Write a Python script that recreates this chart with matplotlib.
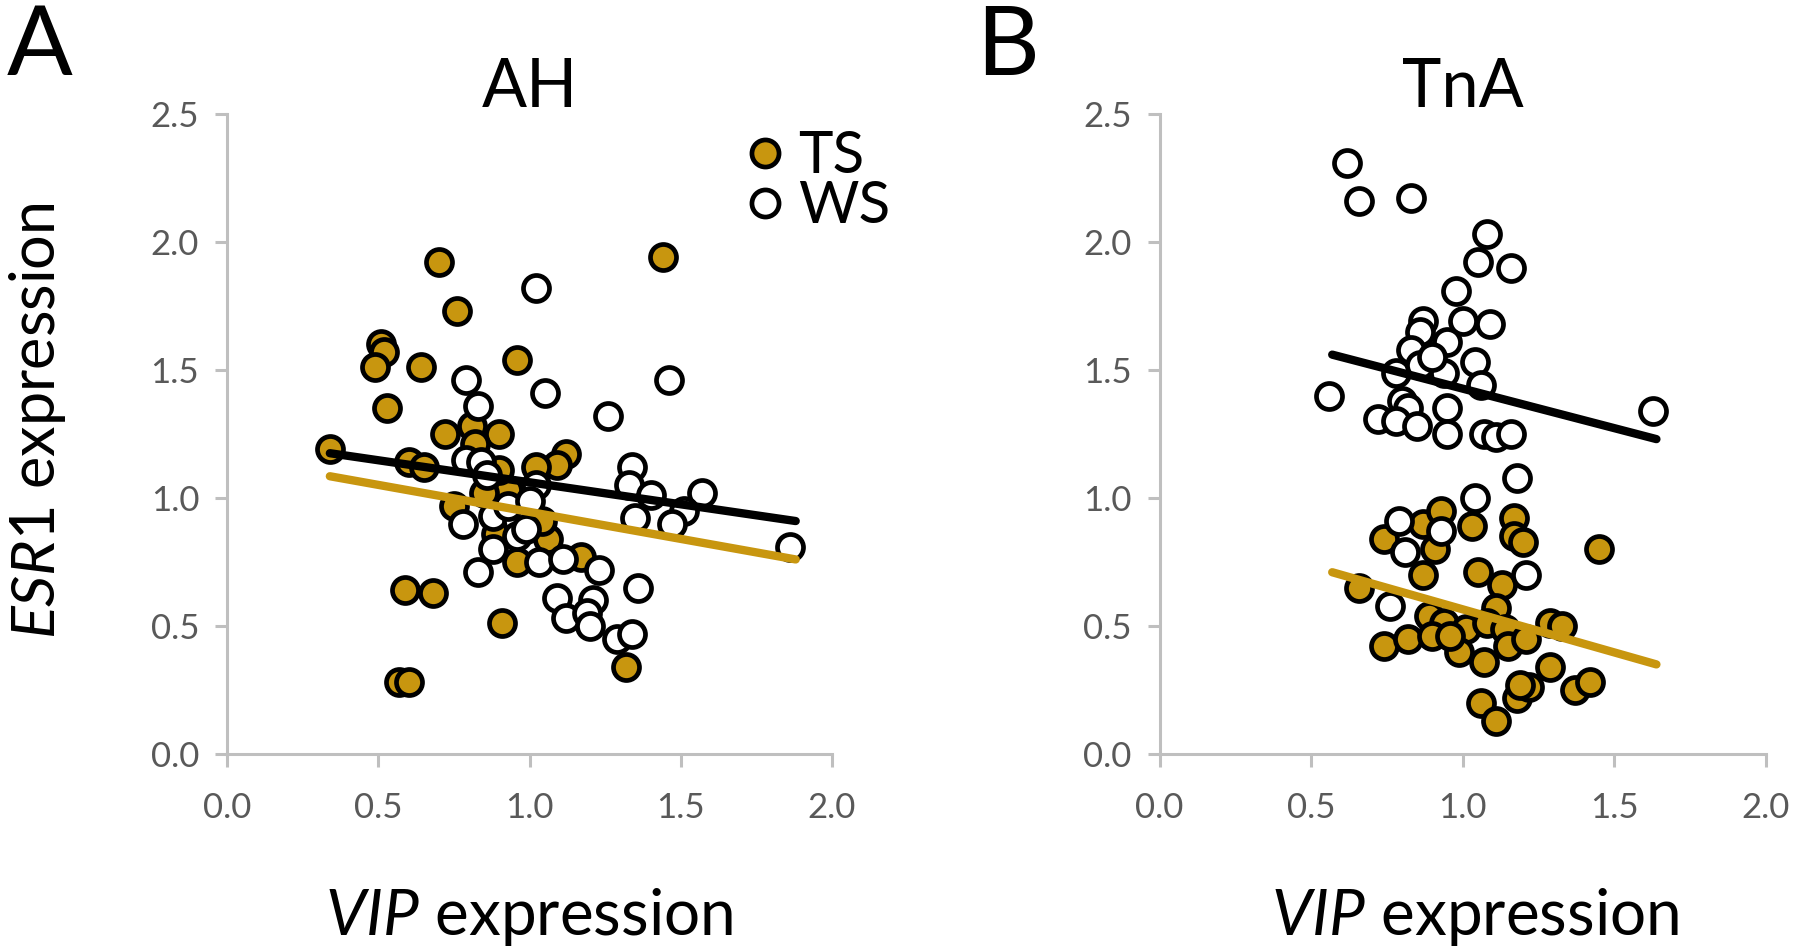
import matplotlib
matplotlib.use("Agg")
import matplotlib.pyplot as plt
from matplotlib.lines import Line2D
from matplotlib.ticker import FormatStrFormatter

plt.rcParams['font.family'] = ['Lato', 'DejaVu Sans']
plt.rcParams['mathtext.fontset'] = 'custom'
plt.rcParams['mathtext.rm'] = 'Lato'
plt.rcParams['mathtext.it'] = 'Lato:italic'

GOLD = '#C8960F'
AXIS_GREY = '#BFBFBF'
TICK_GREY = '#595959'

ticks_x = [0.0, 0.5, 1.0, 1.5, 2.0]
ticks_y = [0.0, 0.5, 1.0, 1.5, 2.0, 2.5]

# --- AH panel ---
ah_ts_x = [0.34, 0.70, 0.76, 1.44, 0.51, 0.52, 0.49, 0.64, 0.96, 0.53, 0.72, 0.81,
           0.90, 0.60, 0.65, 1.12, 1.09, 1.02, 0.93, 1.06, 1.17, 0.96, 0.59, 0.68,
           0.91, 0.57, 0.60, 1.32, 0.90, 0.82, 0.75, 1.04, 0.89, 0.85]
ah_ts_y = [1.19, 1.92, 1.73, 1.94, 1.60, 1.57, 1.51, 1.51, 1.54, 1.35, 1.25, 1.28,
           1.25, 1.14, 1.12, 1.17, 1.13, 1.12, 1.03, 0.84, 0.77, 0.75, 0.64, 0.63,
           0.51, 0.28, 0.28, 0.34, 1.11, 1.21, 0.97, 0.91, 0.86, 1.02]

ah_ws_x = [1.02, 1.46, 0.79, 1.05, 0.83, 1.26, 0.79, 0.84, 1.34, 1.33, 1.02, 1.40,
           1.57, 1.51, 1.35, 1.47, 0.78, 0.88, 0.96, 0.96, 0.88, 1.86, 0.83, 1.03,
           1.11, 1.23, 1.36, 1.09, 1.21, 1.12, 1.19, 1.20, 1.29, 1.34, 0.93, 0.99,
           0.86, 1.00]
ah_ws_y = [1.82, 1.46, 1.46, 1.41, 1.36, 1.32, 1.15, 1.14, 1.12, 1.05, 1.05, 1.01,
           1.02, 0.95, 0.92, 0.90, 0.90, 0.93, 0.91, 0.85, 0.80, 0.81, 0.71, 0.75,
           0.76, 0.72, 0.65, 0.61, 0.60, 0.53, 0.55, 0.50, 0.45, 0.47, 0.97, 0.88,
           1.09, 0.99]

ah_ts_fit_x = [0.34, 1.88]
ah_ts_fit_y = [1.085, 0.76]
ah_ws_fit_x = [0.34, 1.88]
ah_ws_fit_y = [1.175, 0.91]

# --- TnA panel ---
tna_ts_x = [0.74, 0.87, 0.93, 1.03, 0.91, 1.17, 1.17, 1.20, 1.45, 0.87, 1.05, 0.66,
            1.13, 1.11, 0.89, 0.94, 1.01, 1.08, 1.14, 1.29, 1.33, 0.74, 0.82, 0.90,
            0.99, 1.15, 1.21, 1.07, 1.29, 1.06, 1.11, 1.18, 1.22, 1.37, 1.42, 1.19,
            0.96]
tna_ts_y = [0.84, 0.90, 0.95, 0.89, 0.80, 0.92, 0.85, 0.83, 0.80, 0.70, 0.71, 0.65,
            0.66, 0.57, 0.54, 0.51, 0.49, 0.51, 0.49, 0.51, 0.50, 0.42, 0.45, 0.46,
            0.40, 0.42, 0.45, 0.36, 0.34, 0.20, 0.13, 0.22, 0.26, 0.25, 0.28, 0.27,
            0.46]

tna_ws_x = [0.62, 0.66, 0.83, 1.08, 1.05, 1.16, 0.98, 0.87, 1.00, 1.09, 0.86, 0.95,
            0.83, 1.04, 0.78, 0.86, 0.94, 0.90, 1.06, 0.56, 0.80, 0.82, 0.95, 0.72,
            0.78, 0.85, 0.95, 1.07, 1.11, 1.16, 1.63, 1.18, 1.04, 0.79, 0.93, 0.81,
            1.21, 0.76]
tna_ws_y = [2.31, 2.16, 2.17, 2.03, 1.92, 1.90, 1.81, 1.69, 1.69, 1.68, 1.65, 1.61,
            1.58, 1.53, 1.49, 1.52, 1.49, 1.55, 1.44, 1.40, 1.38, 1.35, 1.35, 1.31,
            1.30, 1.28, 1.25, 1.25, 1.24, 1.25, 1.34, 1.08, 1.00, 0.91, 0.87, 0.79,
            0.70, 0.58]

tna_ts_fit_x = [0.57, 1.64]
tna_ts_fit_y = [0.71, 0.35]
tna_ws_fit_x = [0.57, 1.64]
tna_ws_fit_y = [1.56, 1.23]

MS = 350
MEW = 3.4


def style_axes(ax):
    for side in ['top', 'right']:
        ax.spines[side].set_visible(False)
    for side in ['left', 'bottom']:
        ax.spines[side].set_color(AXIS_GREY)
        ax.spines[side].set_linewidth(2.2)
    ax.set_xlim(0, 2.0)
    ax.set_ylim(0, 2.5)
    ax.set_xticks(ticks_x)
    ax.set_yticks(ticks_y)
    ax.xaxis.set_major_formatter(FormatStrFormatter('%.1f'))
    ax.yaxis.set_major_formatter(FormatStrFormatter('%.1f'))
    ax.tick_params(direction='out', length=9, width=2.2, color=AXIS_GREY,
                   labelcolor=TICK_GREY, labelsize=25)
    ax.tick_params(axis='x', pad=18)
    ax.tick_params(axis='y', pad=11)


def draw_panel(ax, ts_x, ts_y, ws_x, ws_y, ts_fit, ws_fit, title):
    ax.scatter(ts_x, ts_y, s=MS, facecolor=GOLD, edgecolor='black',
               linewidth=MEW, zorder=3, clip_on=False)
    ax.scatter(ws_x, ws_y, s=MS, facecolor='white', edgecolor='black',
               linewidth=MEW, zorder=3, clip_on=False)
    ax.plot(ws_fit[0], ws_fit[1], color='black', lw=6, solid_capstyle='round', zorder=4)
    ax.plot(ts_fit[0], ts_fit[1], color=GOLD, lw=6, solid_capstyle='round', zorder=4)
    ax.set_title(title, fontsize=48, y=1.011, pad=0)
    ax.set_xlabel(r'$\mathit{VIP}$ expression', fontsize=46)
    ax.xaxis.label.set_va('baseline')
    ax.xaxis.set_label_coords(0.5, -0.283)
    style_axes(ax)


fig = plt.figure(figsize=(18, 9.52), dpi=100)
ax1 = fig.add_axes([227 / 1800, 1 - 754 / 952, 605 / 1800, 640 / 952])
ax2 = fig.add_axes([1159.5 / 1800, 1 - 754 / 952, 606 / 1800, 640 / 952])

draw_panel(ax1, ah_ts_x, ah_ts_y, ah_ws_x, ah_ws_y,
           (ah_ts_fit_x, ah_ts_fit_y), (ah_ws_fit_x, ah_ws_fit_y), 'AH')
draw_panel(ax2, tna_ts_x, tna_ts_y, tna_ws_x, tna_ws_y,
           (tna_ts_fit_x, tna_ts_fit_y), (tna_ws_fit_x, tna_ws_fit_y), 'TnA')
ax2.xaxis.set_label_coords(0.52, -0.283)

ax1.set_ylabel(r'$\mathit{ESR1}$ expression', fontsize=44)
ax1.yaxis.label.set_rotation_mode('anchor')
ax1.yaxis.label.set_ha('center')
ax1.yaxis.label.set_va('baseline')
ax1.yaxis.set_label_coords(-0.284, 0.52)

handles = [
    Line2D([], [], ls='none', marker='o', markersize=19.5, markerfacecolor=GOLD,
           markeredgecolor='black', markeredgewidth=MEW),
    Line2D([], [], ls='none', marker='o', markersize=19.5, markerfacecolor='white',
           markeredgecolor='black', markeredgewidth=MEW),
]
ax1.legend(handles, ['TS', 'WS'], loc='upper left', bbox_to_anchor=(0.862, 0.975),
           frameon=False, fontsize=42, borderpad=0, borderaxespad=0,
           handlelength=0.55, handletextpad=0.3, labelspacing=-0.05)

fig.text(40 / 1800, 1 - 75 / 952, 'A', fontsize=70, ha='center', va='baseline')
fig.text(1008 / 1800, 1 - 75 / 952, 'B', fontsize=70, ha='center', va='baseline')

fig.savefig('out.png', dpi=100, facecolor='white')
